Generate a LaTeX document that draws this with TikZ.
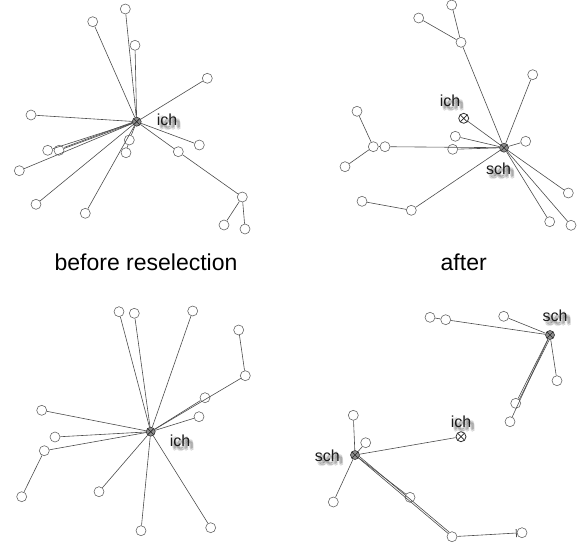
\documentclass[tikz,border=0pt]{standalone}
\usepackage{fontspec}
\setmainfont{Liberation Sans}
\usetikzlibrary{arrows.meta,calc}
\tikzset{
  leaf/.style={circle, draw=black!60, line width=0.6pt, minimum size=10pt, inner sep=0pt},
  hub/.style={circle, draw=black!80, fill=black!45, line width=0.6pt, minimum size=9pt, inner sep=0pt,
    path picture={\draw[black!85, line width=0.6pt] (path picture bounding box.south west) -- (path picture bounding box.north east)
      (path picture bounding box.north west) -- (path picture bounding box.south east);}},
  xcirc/.style={circle, draw=black!80, line width=0.8pt, minimum size=10pt, inner sep=0pt,
    path picture={\draw[black!85, line width=0.7pt] (path picture bounding box.south west) -- (path picture bounding box.north east)
      (path picture bounding box.north west) -- (path picture bounding box.south east);}},
  edge/.style={draw=black!70, line width=0.6pt},
  lbl/.style={font=\fontsize{16}{18}\selectfont, text=black!90, inner sep=0pt},
  lblshadow/.style={font=\fontsize{16}{18}\selectfont, text=black, opacity=0.09, inner sep=0pt},
  caption/.style={font=\fontsize{23}{26}\selectfont, text=black, inner sep=0pt, anchor=base}
}
\newcommand{\shlabel}[3]{%
  \foreach \dx/\dy in {1.5/2, 3/3, 4.5/4, 2/4, 4/2, 3/4.5, 3.5/1.5, 2.5/3, 4/3.5}
    \node[lblshadow] at ($(#2)+(\dx,\dy)$) {#3};
  \node[lbl] (#1) at (#2) {#3};}
\begin{document}
\begin{tikzpicture}[x=1pt, y=-1pt]
\useasboundingbox (0,0) rectangle (585,543);
% ---------- Panel 1 ----------
\node[hub] (h1) at (136.7,121.7) {};
\node[leaf] (p1a) at (92.7,21.7) {};
\node[leaf] (p1b) at (125.3,9) {};
\node[leaf] (p1c) at (135,45.3) {};
\node[leaf] (p1d) at (207.3,78.3) {};
\node[leaf] (p1e) at (31,115) {};
\node[leaf] (p1f) at (47.7,150.3) {};
\node[leaf] (p1g) at (59,150.3) {};
\node[leaf] (p1h) at (19.3,170.7) {};
\node[leaf] (p1i) at (36,204.3) {};
\node[leaf] (p1j) at (85.3,213.3) {};
\node[leaf] (p1k) at (129.3,140) {};
\node[leaf] (p1l) at (126,152.7) {};
\node[leaf] (p1m) at (178.3,151.7) {};
\node[leaf] (p1n) at (242.3,197) {};
\node[leaf] (p1o) at (199.3,145) {};
\node[leaf] (p1p) at (224,225) {};
\node[leaf] (p1q) at (245,229) {};
\foreach \t in {p1a,p1b,p1c,p1d,p1e,p1f,p1g,p1h,p1i,p1j,p1k,p1m,p1o}
  \draw[edge] (h1) -- (\t);
\draw[edge, shorten <=4pt, shorten >=5pt] ($(h1.center)+(0.6,-1.2)$) -- ($(p1g.center)+(0.6,-1.2)$);
\draw[edge] (p1k) -- (p1l);
\draw[edge] (p1m) -- (p1n);
\draw[edge] (p1n) -- (p1p);
\draw[edge] (p1n) -- (p1q);
\shlabel{l1}{167,120}{ich}
% ---------- Panel 2 ----------
\node[hub] (h2) at (504,147.7) {};
\node[xcirc] (i2) at (463.7,118.3) {};
\node[leaf] (q1) at (451.7,5) {};
\node[leaf] (q2) at (418.7,18) {};
\node[leaf] (q3) at (461,42.3) {};
\node[leaf] (q4) at (532.7,74.7) {};
\node[leaf] (q5) at (357,111.3) {};
\node[leaf] (q6) at (373.3,146.7) {};
\node[leaf] (q7) at (385,146.7) {};
\node[leaf] (q8) at (345,166.7) {};
\node[leaf] (q9) at (452.7,149.3) {};
\node[leaf] (q10) at (455.3,136.3) {};
\node[leaf] (q11) at (525.7,141.3) {};
\node[leaf] (q12) at (568.3,193) {};
\node[leaf] (q13) at (549.7,221.7) {};
\node[leaf] (q14) at (571,225.3) {};
\node[leaf] (q15) at (411.3,210.3) {};
\node[leaf] (q16) at (362,201.3) {};
\draw[edge] (q1) -- (q3);
\draw[edge] (q2) -- (q3);
\foreach \t in {q3,q4,i2,q10,q11,q7,q9,q12,q13,q14,q15}
  \draw[edge] (h2) -- (\t);
\draw[edge] (q6) -- (q5);
\draw[edge] (q6) -- (q8);
\draw[edge] (q6) -- (q7);
\draw[edge] (q15) -- (q16);
\shlabel{l2a}{450,101}{ich}
\shlabel{l2b}{498.5,169}{sch}
% ---------- Panel 3 ----------
\node[hub] (h3) at (150.7,431.7) {};
\node[leaf] (r1) at (119,311.7) {};
\node[leaf] (r2) at (134.3,313.3) {};
\node[leaf] (r3) at (192.7,311) {};
\node[leaf] (r4) at (238.7,330) {};
\node[leaf] (r5) at (245.3,375.7) {};
\node[leaf] (r6) at (205,397.7) {};
\node[leaf] (r7) at (199,416.7) {};
\node[leaf] (r8) at (41.7,410.3) {};
\node[leaf] (r9) at (55,437) {};
\node[leaf] (r10) at (44.3,450.7) {};
\node[leaf] (r11) at (21.7,496.7) {};
\node[leaf] (r12) at (99,491.7) {};
\node[leaf] (r13) at (141,530.7) {};
\node[leaf] (r14) at (210.7,527.7) {};
\foreach \t in {r1,r2,r3,r5,r6,r7,r8,r9,r10,r12,r13,r14}
  \draw[edge] (h3) -- (\t);
\draw[edge] (r4) -- (r5);
\draw[edge] (r10) -- (r11);
\shlabel{l3}{180,441}{ich}
% ---------- Panel 4 ----------
\node[hub] (s1) at (550,335) {};
\node[hub] (s2) at (355,455) {};
\node[xcirc] (i4) at (461,436.7) {};
\node[leaf] (t1) at (430,317.3) {};
\node[leaf] (t2) at (445.7,319.7) {};
\node[leaf] (t3) at (503.7,316.3) {};
\node[leaf] (t4) at (557,380.7) {};
\node[leaf] (t5) at (515.7,403.3) {};
\node[leaf] (t6) at (510,421.7) {};
\node[leaf] (u1) at (353.3,415.3) {};
\node[leaf] (u2) at (365.7,442.7) {};
\node[leaf] (u3) at (333.3,502) {};
\node[leaf] (u4) at (410,497.3) {};
\node[leaf] (u5) at (452,536.7) {};
\node[leaf] (u6) at (522,532.7) {};
\draw[edge] (t1) -- (t2);
\foreach \t in {t2,t3,t4,t5,t6}
  \draw[edge] (s1) -- (\t);
\draw[edge, shorten <=4pt, shorten >=5pt] ($(s1.center)+(1.3,0.7)$) -- ($(t5.center)+(1.3,0.7)$);
\foreach \t in {i4,u1,u2,u3,u4,u5}
  \draw[edge] (s2) -- (\t);
\draw[edge, shorten <=4pt, shorten >=5pt] ($(s2.center)+(1.1,-1.3)$) -- ($(u5.center)+(1.1,-1.3)$);
\draw[edge, -{Bar[width=8pt, line width=0.8pt]}] (u5) -- (u6);
\shlabel{l4a}{555,316}{sch}
\shlabel{l4b}{327.3,456}{sch}
\shlabel{l4c}{461,422}{ich}
% ---------- Captions ----------
\node[caption] (c1) at (146,270.5) {before reselection};
\node[caption] (c2) at (463.7,270.5) {after};
\end{tikzpicture}
\end{document}
